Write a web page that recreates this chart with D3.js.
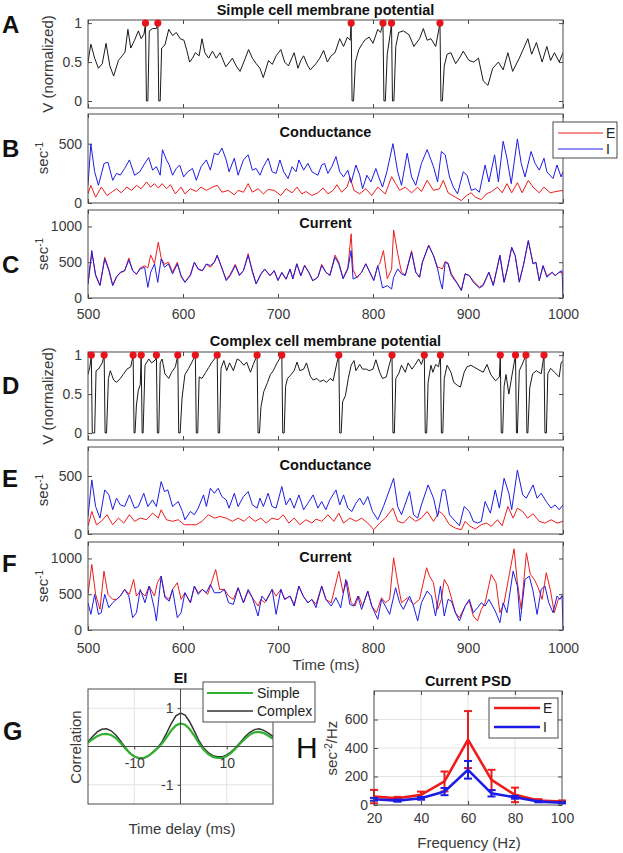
<!DOCTYPE html>
<html>
<head>
<meta charset="utf-8">
<script src="https://cdn.jsdelivr.net/npm/d3@7"></script>
<style>
body { margin: 0; background: #fff; }
svg { font-family: "Liberation Sans", Arial, sans-serif; }
.tick text { fill: #3a3a3a; font-size: 14px; }
.tick line { stroke: #4a4a4a; }
</style>
</head>
<body>
<svg width="623" height="853"></svg>
<script>
// ---- data ----
var timeTicks = [500, 600, 700, 800, 900, 1000];

// simple cell, membrane potential [t (ms), V normalized]
var simpleV = [[500,0.50],[503,0.73],[507,0.55],[511,0.42],[515,0.48],[519,0.74],[523,0.45],[527,0.32],[532,0.52],[536,0.58],[539,0.63],[542,0.92],[545,0.68],[549,0.78],[553,0.90],[556,0.80],[559,0.86],[560.5,1],[561.5,0],[563,0],[564.5,0.9],[568,0.93],[572,0.93],[573.5,1],[574.5,0],[576,0],[577.5,0.68],[581,0.72],[585,0.92],[589,0.84],[593,0.88],[597,0.80],[601,0.78],[604,0.65],[607,0.50],[610,0.55],[613,0.62],[617,0.58],[620,0.80],[623,0.62],[627,0.55],[631,0.64],[635,0.55],[639,0.62],[645,0.44],[649,0.50],[652,0.55],[656,0.45],[660,0.38],[664,0.50],[669,0.66],[673,0.55],[677,0.48],[681,0.42],[684.5,0.30],[690,0.52],[694,0.47],[698,0.58],[703,0.66],[707,0.50],[711,0.45],[717,0.62],[721,0.42],[724,0.52],[727,0.58],[731,0.46],[734,0.40],[740,0.48],[744,0.55],[748,0.65],[752,0.50],[756,0.58],[760,0.62],[765,0.80],[769,0.70],[773,0.82],[776,0.78],[777,1],[778,0],[779.5,0],[781.5,0.5],[785,0.66],[789,0.74],[792,0.79],[796,0.82],[800,0.74],[805,0.92],[808,0.88],[810.5,1],[811.5,0],[813,0],[815,0.6],[818,0.85],[819.5,1],[820.5,0],[822,0],[824,0.7],[827,0.88],[832,0.90],[838,0.85],[843,0.70],[849,0.80],[853,0.93],[857,0.78],[861,0.80],[866,0.70],[870.5,1],[871.5,0],[873,0],[875,0.45],[878,0.60],[882,0.62],[887,0.48],[891,0.55],[895,0.64],[901,0.52],[906,0.50],[911,0.55],[916,0.26],[921,0.20],[926,0.42],[932,0.50],[937,0.40],[942,0.62],[947,0.38],[954,0.55],[958,0.66],[963,0.80],[967,0.60],[972,0.75],[978,0.50],[983,0.70],[987,0.52],[991,0.62],[996,0.50],[1000,0.62]];
var simpleSpikes = [560.5, 573.5, 777, 810.5, 819.5, 870.5];

// simple cell conductance [t, sec^-1]
var simpleGE = [[500,77],[503,149],[508,49],[514,134],[520,63],[526,97],[530,120],[535,86],[540.7,134],[546,106],[551,149],[556,120],[561.7,177],[566,134],[570,163],[574,126],[578,163],[582.6,120],[586.8,154],[592,77],[598,134],[602,77],[607.8,120],[614,97],[619,134],[624.6,106],[631,134],[636,149],[641,91],[647.7,106],[654,69],[658,106],[663.6,91],[668.6,163],[673,91],[679,120],[684.6,77],[689.6,114],[696,106],[703,63],[708.5,120],[714.8,86],[720,134],[725,77],[729.5,97],[735.7,63],[742,86],[747.5,126],[752.5,77],[758,106],[762,154],[767,91],[772.6,134],[776,215],[780,106],[786,77],[792.4,120],[798.7,63],[805,134],[810,97],[813,77],[819.6,222],[824,163],[828,106],[834,134],[840.6,86],[847,134],[851,97],[857,191],[863.7,106],[870,120],[874,191],[879,86],[886.7,49],[893,20],[898.5,63],[903.5,86],[907.7,49],[914,29],[919.5,77],[925,97],[931,134],[936,86],[941,163],[946,86],[952,171],[957,86],[963.5,191],[968.5,134],[975,86],[980,134],[986.6,86],[992.5,97],[1000,106]];
var simpleGI = [[500,149],[503,497],[507,263],[511,149],[517,334],[521,343],[526,191],[530,249],[534,235],[538.6,291],[543.6,363],[549,234],[554.5,263],[558.7,320],[563.8,383],[568,277],[572,306],[576,234],[578.4,449],[582.6,363],[585.6,320],[589,234],[593,291],[596.5,320],[600.7,220],[605,263],[610,291],[614,191],[619,306],[624.6,363],[628.8,277],[633,420],[637,406],[641,463],[645.5,363],[648.5,263],[654,377],[658,234],[663.6,363],[668.6,406],[673,277],[677,291],[681,234],[684.6,306],[689.6,377],[693.8,263],[698,249],[702,363],[706,263],[710.6,206],[714.8,306],[719,263],[722,363],[727,277],[731.5,334],[735.7,263],[742,234],[746,320],[749,334],[752.5,249],[756.7,306],[761,391],[765,263],[769,220],[773.5,277],[777,170],[782,320],[786,234],[789,120],[793.6,234],[797.8,177],[803,291],[806,220],[810,134],[814.6,263],[821,500],[826,263],[830,149],[836,420],[840.6,220],[845,149],[851,334],[857,450],[863.7,306],[868,177],[872,434],[876,406],[880.5,220],[884.6,134],[889,77],[895,263],[899,234],[903.5,106],[907.7,120],[912,91],[918,320],[922,177],[928,406],[932,177],[937,520],[941,377],[945.5,163],[952,540],[956,334],[960,220],[966.4,434],[970.6,334],[975,277],[980,377],[983,263],[989.5,206],[993.7,320],[998,220],[1000,263]];

// simple cell current [t, sec^-1]
var simpleCurE = [[500,196],[504,630],[508,330],[512.6,180],[517.6,570],[522,400],[526,180],[530,300],[534,350],[538.6,380],[543,560],[547,380],[551,330],[555,420],[559.6,450],[563,420],[566,600],[570,480],[574,780],[577,560],[580.5,470],[584.7,500],[589,360],[594,500],[598,300],[602,220],[607.8,330],[612,500],[616,400],[620.4,380],[624.6,470],[628.8,430],[633,500],[636,600],[640,450],[645.5,260],[649.7,330],[655,470],[659.4,320],[663.6,380],[668.6,620],[673,360],[677,200],[682,330],[686,400],[691.7,310],[696,380],[700,250],[704,350],[708.5,260],[712.7,400],[715.6,270],[719.8,480],[724,310],[728,460],[732.4,360],[736.6,240],[742,290],[746,470],[750.4,360],[754.6,320],[760,600],[764,500],[768.5,280],[773.5,420],[777,897],[779,400],[783,280],[788,360],[792.4,480],[796.6,360],[800.8,250],[805,450],[807,476],[811,663],[815,270],[819.6,400],[821.7,950],[826,620],[830,360],[834,320],[840.6,660],[845,360],[849,290],[852,500],[858.6,740],[863.7,590],[868,430],[871,420],[873,406],[876,510],[879,490],[882.5,340],[889,200],[893,110],[897,340],[901.4,310],[905.6,240],[912,150],[916,190],[922,360],[926.6,180],[933.6,600],[938,220],[941,380],[946,700],[949.7,590],[954,230],[958.6,470],[963.5,800],[968.5,480],[971.5,500],[975,240],[979,450],[983,310],[988.7,360],[991.6,310],[996,360],[999,350],[1000,340]];
var simpleCurI = [[500,196],[504,663],[508,313],[512.6,173],[517.6,546],[522,383],[526,173],[530,290],[534,360],[538.6,383],[543,532],[547,383],[551,336],[555,406],[559.6,430],[563,149],[566,360],[570,476],[573.4,219],[577,546],[580.5,430],[584.7,476],[589,336],[594,476],[598,313],[602,220],[607.8,313],[612,500],[616,406],[620.4,383],[624.6,476],[628.8,453],[633,500],[636,593],[640,453],[645.5,243],[649.7,313],[655,453],[659.4,313],[663.6,383],[668.6,593],[673,383],[677,196],[682,336],[686,406],[691.7,313],[696,383],[700,243],[704,360],[708.5,266],[712.7,406],[715.6,266],[719.8,476],[724,313],[728,453],[732.4,360],[736.6,243],[742,290],[746,453],[750.4,360],[754.6,313],[760,570],[764,476],[768.5,266],[773.5,406],[777,663],[779,266],[783,290],[788,360],[792.4,476],[796.6,360],[800.8,243],[805,453],[807,336],[810,140],[815,173],[819.6,126],[821.7,290],[826,406],[830,336],[834,313],[840.6,640],[845,360],[849,290],[852,500],[858.6,733],[863.7,593],[868,406],[871,220],[873,126],[876,500],[879,476],[882.5,313],[889,196],[893,103],[897,336],[901.4,313],[905.6,220],[912,140],[916,173],[922,360],[926.6,173],[933.6,593],[938,220],[941,383],[946,710],[949.7,593],[954,220],[958.6,476],[963.5,803],[968.5,476],[971.5,500],[975,243],[979,453],[983,290],[988.7,360],[991.6,313],[996,360],[999,383],[1000,10]];

// complex cell, membrane potential [t, V normalized]
var complexV = [[500,0.75],[502,0.85],[503.5,1],[504.5,0],[507,0],[508.5,0.80],[511,0.82],[515,0.9],[517,1],[518,0],[519.5,0],[521.5,0.70],[523.5,0.80],[527,0.68],[530,0.65],[534,0.70],[537,0.75],[541,0.82],[545,0.85],[547.5,1],[548.5,0],[549.5,0],[551,0.36],[553,0.55],[555,0.62],[556,1],[557,0],[558,0],[560,0.87],[564,0.95],[567,0.90],[571,0.94],[572,1],[573,0],[574.5,0],[576,0.90],[578,0.95],[581,0.76],[585,0.70],[588,0.78],[592,0.85],[594.5,1],[595.5,0],[597,0],[599,0.45],[602,0.75],[606,0.83],[609,0.90],[613,1],[614,0],[615.5,0],[617,0.72],[620,0.70],[624,0.78],[627,0.84],[630,0.90],[636,1],[637,0],[638.5,0],[640,0.83],[643,0.93],[646,0.80],[649,0.90],[653,0.80],[657,0.95],[660,0.93],[664,0.87],[667,0.91],[671,0.78],[674,0.88],[678,1],[679,0],[680.5,0],[682,0.33],[685,0.53],[689,0.65],[692,0.75],[695,0.80],[699,0.90],[704,1],[705,0],[706.5,0],[708,0.60],[710,0.70],[713,0.74],[717,0.80],[720,0.91],[723,0.80],[727,0.82],[730,0.90],[734,0.73],[737,0.68],[741,0.70],[744,0.66],[748,0.68],[751,0.65],[755,0.70],[758,0.67],[762,0.90],[764,1],[765,0],[766.5,0],[768,0.40],[771,0.48],[774,0.70],[777,0.87],[780,0.93],[782,0.80],[786,0.88],[789,0.82],[793,0.82],[796,0.80],[800,0.82],[803,0.94],[807,0.78],[810,0.70],[814,0.72],[817,0.87],[820,1],[821,0],[822.5,0],[824,0.70],[827,0.76],[830,0.87],[834,0.78],[837,0.90],[841,0.82],[844,0.87],[848,0.95],[851,0.88],[854,1],[855,0],[856.5,0],[858,0.65],[861,0.87],[863,0.78],[866,0.88],[869,0.85],[871,1],[872,0],[873.5,0],[875,0.70],[878,0.87],[882,0.78],[885,0.65],[889,0.61],[892,0.59],[896,0.78],[899,0.85],[903,0.87],[906,0.85],[910,0.82],[916,0.78],[920,0.88],[924,0.75],[929,0.67],[933,0.72],[934,1],[935,0],[936.5,0],[938,0.60],[940,0.75],[943,0.50],[946,0.72],[950,1],[951,0],[952,0],[954,0.80],[957,0.88],[961,1],[962,0],[963,0],[965,0.58],[968,0.76],[972,0.80],[977,0.76],[980,1],[981,0],[982.5,0],[984,0.76],[987,0.83],[991,0.78],[996,0.72],[998,0.90],[1000,0.93]];
var complexSpikes = [503.5, 517, 547.5, 556, 572, 594.5, 613, 636, 678, 704, 764, 820, 854, 871, 934, 950, 961, 980];

// complex cell conductance [t, sec^-1]
var complexGE = [[500,66],[504,194],[509,80],[514,109],[520,166],[526,80],[532,137],[537.7,94],[543.6,166],[549,109],[555,137],[561.7,123],[568,180],[574,137],[577,209],[582.6,123],[589,109],[595,123],[601.5,80],[607.8,80],[614,80],[620,109],[626.7,166],[633,137],[639,151],[645.5,137],[652,109],[658,137],[664.4,109],[669.5,151],[676,109],[682,137],[687.5,94],[693.8,137],[700,123],[705.5,166],[711.4,94],[717,137],[723,80],[729.5,123],[735.7,94],[740,129],[746,109],[752.5,166],[758.8,109],[764,180],[769,94],[775.6,137],[782,109],[788,137],[794.5,94],[800.8,37],[807,94],[813,137],[821,223],[826,109],[832,94],[838.5,151],[845,109],[851,137],[857,194],[863.7,109],[870,194],[874,166],[880.5,80],[886.7,51],[893,37],[897,109],[901.4,71],[907.7,43],[914,80],[919.5,94],[924.5,66],[931,123],[936,71],[942,237],[947.5,137],[952,223],[957.6,194],[962.7,137],[968.5,174],[975,109],[981,94],[987.4,123],[993.7,94],[1000,109]];
var complexGI = [[500,151],[504,466],[508,237],[512.6,137],[517.6,380],[522,337],[526,209],[530,309],[534,251],[538.6,237],[543.6,337],[549,223],[553,237],[558.7,351],[563,237],[568,294],[572,237],[577,451],[580.5,366],[584,380],[589,237],[595,280],[599.4,194],[602,123],[607.8,194],[612,166],[616,223],[621.6,337],[624.6,237],[628.8,394],[633,351],[637,394],[641,323],[645.5,294],[648.5,223],[654,351],[658,237],[663.6,323],[668.6,366],[673,251],[678,223],[681,309],[684.6,237],[689.6,351],[693.8,237],[698,223],[704,409],[708.5,251],[712.7,309],[717,223],[722,337],[727,209],[731.5,266],[737,337],[742,223],[746,280],[750.4,209],[754.6,294],[761,380],[765,251],[769,337],[773.5,223],[777.7,194],[782,266],[786,309],[790,251],[794.5,323],[799.5,194],[805,123],[811,237],[821.7,480],[826,237],[830,166],[838.5,366],[842.7,166],[847,137],[851,251],[858,423],[863.7,309],[868,151],[873,380],[876,380],[880.5,166],[886.7,109],[891,71],[896,237],[901.4,194],[905.6,109],[910,94],[914,109],[918,280],[923.6,180],[928.7,380],[933,223],[938,480],[943,351],[946,209],[952,551],[957.6,337],[961.4,309],[968.5,423],[972.7,309],[977,351],[982.4,280],[987.4,223],[991.6,251],[996,209],[1000,251]];

// complex cell current [t, sec^-1]
var complexCurE = [[500,498],[504,916],[508,498],[512.6,288],[516.8,823],[521,498],[526,428],[530,428],[534,474],[538.6,567],[543.6,498],[548,707],[551,474],[555,544],[560,474],[564.4,614],[570,474],[573,660],[577,753],[581,474],[585.6,428],[589,567],[594,660],[598,428],[602,521],[607.8,381],[612,614],[616,521],[620.4,567],[626,498],[634.4,846],[638.6,567],[643.6,567],[648,474],[653,428],[658,590],[663.6,381],[668.6,544],[673,451],[679,335],[682,428],[686,381],[693.8,567],[698,474],[703,567],[707,428],[712.7,474],[717,358],[722,614],[726.5,474],[731.5,381],[735.7,428],[740,358],[746,614],[750.4,428],[756,381],[764,823],[768.5,521],[772.6,684],[777,381],[781,335],[785,474],[789,335],[794.5,544],[798.7,335],[803.7,242],[809,451],[813,381],[817.5,428],[821.7,1009],[826,660],[830,381],[836.4,451],[842.7,358],[849,428],[856.4,870],[859.5,753],[863.7,660],[868,288],[872,428],[875,707],[879,614],[883,428],[886.7,242],[891,172],[897,335],[901.4,404],[905.6,195],[910,126],[914,288],[918,381],[924.5,777],[929.5,660],[933.6,242],[938,381],[942.5,707],[948.5,1135],[952,660],[956,288],[961.5,1079],[965.6,777],[969.8,707],[974,590],[978,428],[982.4,800],[986.6,567],[990.8,242],[995,428],[1000,474]];
var complexCurI = [[500,381],[503,219],[507,498],[511,219],[514,242],[517.6,498],[522,312],[526,381],[530,428],[534,474],[538.6,567],[543,474],[547,172],[551,242],[555,567],[560,381],[564.4,614],[570,288],[572,126],[577,753],[581,451],[585.6,404],[589,567],[594,172],[598,242],[602,521],[607.8,381],[612,614],[616,498],[620.4,567],[624.6,521],[628.8,637],[633,521],[639,521],[643.6,567],[648,381],[653,358],[658,590],[663.6,381],[668.6,567],[673,451],[679,195],[683,474],[687.5,404],[693.8,567],[698,219],[703,567],[707,428],[712.7,474],[717,335],[722,614],[726.5,474],[731.5,381],[735.7,428],[740,312],[746,614],[750.4,428],[756,335],[761,451],[766,312],[771.4,707],[775.6,358],[779.8,335],[784,474],[788,288],[794.5,544],[798.7,335],[805,149],[809,428],[813,335],[817.5,219],[823.8,590],[828,381],[832,288],[838.5,474],[842.7,335],[847,126],[851,381],[857,544],[861.6,474],[865.8,195],[871,614],[875,195],[879,428],[882.5,404],[886.7,242],[891,126],[897,335],[901.4,428],[905.6,242],[910,312],[914,381],[918,335],[922,428],[928.7,265],[933.6,102],[937,381],[941,242],[947.5,823],[952,614],[955,126],[960,707],[964.5,753],[968.5,544],[972.7,219],[977,567],[981,614],[985,381],[989.5,242],[993.7,474],[996.6,428],[999,480],[1000,20]];

// EI correlation vs time delay
var lagMs = [-20,-19,-18,-17,-16,-15,-14,-13,-12,-11,-10,-9,-8,-7,-6,-5,-4,-3,-2,-1,0,1,2,3,4,5,6,7,8,9,10,11,12,13,14,15,16,17,18,19,20];
var corrSimple = [0.10,0.19,0.27,0.32,0.33,0.30,0.22,0.10,-0.04,-0.17,-0.26,-0.30,-0.30,-0.25,-0.16,-0.05,0.08,0.24,0.42,0.55,0.60,0.57,0.45,0.28,0.08,-0.08,-0.20,-0.27,-0.30,-0.30,-0.25,-0.16,-0.04,0.09,0.21,0.31,0.37,0.38,0.35,0.28,0.20];
var corrComplex = [0.13,0.26,0.38,0.45,0.46,0.41,0.30,0.15,-0.02,-0.16,-0.26,-0.31,-0.31,-0.25,-0.15,-0.04,0.12,0.35,0.60,0.80,0.87,0.82,0.64,0.40,0.15,-0.04,-0.16,-0.24,-0.27,-0.27,-0.22,-0.13,-0.02,0.12,0.26,0.37,0.44,0.46,0.42,0.35,0.26];

// current PSD
var freqHz = [20, 30, 40, 50, 60, 70, 80, 90, 100];
var psdE = [59, 47, 71, 165, 459, 176, 71, 31, 24];
var psdEErr = [47, 10, 23, 70, 200, 71, 51, 10, 8];
var psdI = [40, 31, 47, 94, 247, 82, 54, 24, 16];
var psdIErr = [10, 8, 10, 25, 62, 22, 10, 5, 5];

// ---- drawing ----
var svg = d3.select("svg");
var axisColor = "#4a4a4a";
var red = "#ee1c1c", blue = "#1c1ce6";
var left = 88, right = 563;
var x = d3.scaleLinear().domain([500, 1000]).range([left, right]);
var plain = function(d) { return String(d); };
var clipId = 0;

function panel(top, bottom, yDomain, yTicks, showX, xPad) {
    var y = d3.scaleLinear().domain(yDomain).range([bottom, top]);
    var g = svg.append("g");
    var id = "clip" + (clipId++);
    g.append("clipPath").attr("id", id).append("rect")
        .attr("x", left).attr("y", top).attr("width", right - left).attr("height", bottom - top);

    var xb = d3.axisBottom(x).tickValues(timeTicks).tickSize(-4).tickPadding(xPad || 10)
        .tickFormat(showX ? plain : "");
    g.append("g").attr("transform", "translate(0," + bottom + ")").call(xb);
    g.append("g").attr("transform", "translate(0," + top + ")")
        .call(d3.axisTop(x).tickValues(timeTicks).tickSize(-4).tickFormat(""));
    g.append("g").attr("transform", "translate(" + left + ",0)")
        .call(d3.axisLeft(y).tickValues(yTicks).tickSize(-4).tickPadding(6).tickFormat(plain));
    g.append("g").attr("transform", "translate(" + right + ",0)")
        .call(d3.axisRight(y).tickValues(yTicks).tickSize(-4).tickFormat(""));
    g.selectAll(".domain").remove();

    var plot = g.append("g").attr("clip-path", "url(#" + id + ")");
    g.append("rect").attr("x", left).attr("y", top).attr("width", right - left).attr("height", bottom - top)
        .attr("fill", "none").attr("stroke", axisColor).attr("stroke-width", 1);
    return {g: g, plot: plot, y: y};
}

function trace(p, data, color, width) {
    p.plot.append("path").datum(data)
        .attr("fill", "none").attr("stroke", color).attr("stroke-width", width)
        .attr("stroke-linejoin", "round")
        .attr("d", d3.line().x(function(d) { return x(d[0]); }).y(function(d) { return p.y(d[1]); }));
}

function spikes(p, times) {
    p.g.selectAll(null).data(times).enter().append("circle")
        .attr("cx", function(d) { return x(d); }).attr("cy", p.y(1)).attr("r", 3.6)
        .attr("fill", "#e8141c");
}

function title(txt, cy) {
    svg.append("text").attr("x", (left + right) / 2).attr("y", cy).attr("text-anchor", "middle")
        .attr("font-size", 14.5).attr("font-weight", "bold").attr("fill", "#111").text(txt);
}

function letter(txt, lx, ly, size, weight) {
    svg.append("text").attr("x", lx).attr("y", ly).attr("font-size", size || 24)
        .attr("font-weight", weight || "bold").attr("fill", "#111").text(txt);
}

function yLabel(lx, ly, main, sup, tail) {
    var t = svg.append("text").attr("transform", "translate(" + lx + "," + ly + ") rotate(-90)")
        .attr("text-anchor", "middle").attr("font-size", 15).attr("fill", "#3a3a3a");
    t.append("tspan").text(main);
    if (sup) t.append("tspan").attr("baseline-shift", "super").attr("font-size", 10).text(sup);
    if (tail) t.append("tspan").text(tail);
}

// A
var pA = panel(20, 108, [-0.09, 1.04], [0, 0.5, 1], false);
trace(pA, simpleV, "#1a1a1a", 1);
spikes(pA, simpleSpikes);
title("Simple cell membrane potential", 15);
yLabel(53, 64, "V (normalized)");
letter("A", 2, 33);

// B
var pB = panel(114, 203, [0, 750], [0, 500], false);
trace(pB, simpleGE, red, 1);
trace(pB, simpleGI, blue, 1);
pB.g.append("text").attr("x", (left + right) / 2).attr("y", 137).attr("text-anchor", "middle")
    .attr("font-size", 14.5).attr("font-weight", "bold").attr("fill", "#111").text("Conductance");
yLabel(48, 158, "sec", "-1");
letter("B", 2, 157);

// legend B
var lg = svg.append("g");
lg.append("rect").attr("x", 553).attr("y", 122).attr("width", 64).attr("height", 36)
    .attr("fill", "#fff").attr("stroke", axisColor);
[["E", red, 133], ["I", blue, 149]].forEach(function(r) {
    lg.append("line").attr("x1", 558).attr("x2", 603).attr("y1", r[2]).attr("y2", r[2])
        .attr("stroke", r[1]).attr("stroke-width", 1);
    lg.append("text").attr("x", 606).attr("y", r[2] + 5).attr("font-size", 14).attr("fill", "#222").text(r[0]);
});

// C
var pC = panel(210, 298, [0, 1230], [0, 500, 1000], true, 11);
trace(pC, simpleCurE, red, 1);
trace(pC, simpleCurI, blue, 1);
pC.g.append("text").attr("x", (left + right) / 2).attr("y", 228).attr("text-anchor", "middle")
    .attr("font-size", 14.5).attr("font-weight", "bold").attr("fill", "#111").text("Current");
yLabel(48, 254, "sec", "-1");
letter("C", 2, 273);

// D
var pD = panel(352, 440, [-0.09, 1.04], [0, 0.5, 1], false);
trace(pD, complexV, "#1a1a1a", 1);
spikes(pD, complexSpikes);
title("Complex cell membrane potential", 346);
yLabel(53, 396, "V (normalized)");
letter("D", 2, 394);

// E
var pE = panel(447, 534, [0, 750], [0, 500], false);
trace(pE, complexGE, red, 1);
trace(pE, complexGI, blue, 1);
pE.g.append("text").attr("x", (left + right) / 2).attr("y", 470).attr("text-anchor", "middle")
    .attr("font-size", 14.5).attr("font-weight", "bold").attr("fill", "#111").text("Conductance");
yLabel(48, 490, "sec", "-1");
letter("E", 2, 487);

// F
var pF = panel(542, 630, [0, 1230], [0, 500, 1000], true, 13);
trace(pF, complexCurE, red, 1);
trace(pF, complexCurI, blue, 1);
pF.g.append("text").attr("x", (left + right) / 2).attr("y", 562).attr("text-anchor", "middle")
    .attr("font-size", 14.5).attr("font-weight", "bold").attr("fill", "#111").text("Current");
yLabel(48, 586, "sec", "-1");
letter("F", 2, 572);

svg.append("text").attr("x", 326).attr("y", 670).attr("text-anchor", "middle")
    .attr("font-size", 15).attr("fill", "#3a3a3a").text("Time (ms)");

// G: EI correlation
(function() {
    var gl = 88, gr = 273, gt = 689, gb = 804;
    var gx = d3.scaleLinear().domain([-20, 20]).range([gl, gr]);
    var gy = d3.scaleLinear().domain([-1.5, 1.5]).range([gb, gt]);
    var g = svg.append("g");
    g.append("clipPath").attr("id", "clipG").append("rect")
        .attr("x", gl).attr("y", gt).attr("width", gr - gl).attr("height", gb - gt);
    // grid
    [-10, 10].forEach(function(v) {
        g.append("line").attr("x1", gx(v)).attr("x2", gx(v)).attr("y1", gt).attr("y2", gb)
            .attr("stroke", "#e2e2e2");
    });
    [-1, 1].forEach(function(v) {
        g.append("line").attr("x1", gl).attr("x2", gr).attr("y1", gy(v)).attr("y2", gy(v))
            .attr("stroke", "#e2e2e2");
    });
    var plot = g.append("g").attr("clip-path", "url(#clipG)");
    var line = function(vals) {
        return d3.line().x(function(d, i) { return gx(lagMs[i]); }).y(function(d) { return gy(d); })(vals);
    };
    // origin axes
    g.append("line").attr("x1", gl).attr("x2", gr).attr("y1", gy(0)).attr("y2", gy(0)).attr("stroke", axisColor);
    g.append("line").attr("x1", gx(0)).attr("x2", gx(0)).attr("y1", gt).attr("y2", gb).attr("stroke", axisColor);
    plot.append("path").attr("d", line(corrComplex)).attr("fill", "none").attr("stroke", "#333").attr("stroke-width", 1.5);
    plot.append("path").attr("d", line(corrSimple)).attr("fill", "none").attr("stroke", "#2fb12f").attr("stroke-width", 2.2);
    g.append("g").attr("transform", "translate(0," + gy(0) + ")")
        .call(d3.axisBottom(gx).tickValues([-10, 10]).tickSize(3).tickPadding(9).tickFormat(plain));
    g.append("g").attr("transform", "translate(" + gx(0) + ",0)")
        .call(d3.axisLeft(gy).tickValues([-1, 1]).tickSize(3).tickPadding(4).tickFormat(plain));
    g.selectAll(".domain").remove();
    g.append("rect").attr("x", gl).attr("y", gt).attr("width", gr - gl).attr("height", gb - gt)
        .attr("fill", "none").attr("stroke", axisColor);
    g.append("text").attr("x", (gl + gr) / 2).attr("y", 683).attr("text-anchor", "middle")
        .attr("font-size", 14.5).attr("font-weight", "bold").attr("fill", "#111").text("EI");
    g.append("text").attr("x", 182).attr("y", 834).attr("text-anchor", "middle")
        .attr("font-size", 15).attr("fill", "#3a3a3a").text("Time delay (ms)");
    g.append("text").attr("transform", "translate(81,747) rotate(-90)").attr("text-anchor", "middle")
        .attr("font-size", 15).attr("fill", "#3a3a3a").text("Correlation");
    // legend
    var lgG = g.append("g");
    lgG.append("rect").attr("x", 203).attr("y", 682).attr("width", 112).attr("height", 40)
        .attr("fill", "#fff").attr("stroke", axisColor);
    [["Simple", "#2fb12f", 693, 2], ["Complex", "#333", 711, 1.5]].forEach(function(r) {
        lgG.append("line").attr("x1", 207).attr("x2", 253).attr("y1", r[2]).attr("y2", r[2])
            .attr("stroke", r[1]).attr("stroke-width", r[3]);
        lgG.append("text").attr("x", 257).attr("y", r[2] + 5).attr("font-size", 14).attr("fill", "#222").text(r[0]);
    });
    letter("G", 3, 740, 25);
})();

// H: current PSD
(function() {
    var hl = 374, hr = 562, ht = 691, hb = 805;
    var hx = d3.scaleLinear().domain([20, 100]).range([hl, hr]);
    var hy = d3.scaleLinear().domain([0, 800]).range([hb, ht]);
    var g = svg.append("g");
    [40, 60, 80].forEach(function(v) {
        g.append("line").attr("x1", hx(v)).attr("x2", hx(v)).attr("y1", ht).attr("y2", hb).attr("stroke", "#e2e2e2");
    });
    [200, 400, 600].forEach(function(v) {
        g.append("line").attr("x1", hl).attr("x2", hr).attr("y1", hy(v)).attr("y2", hy(v)).attr("stroke", "#e2e2e2");
    });
    g.append("g").attr("transform", "translate(0," + hb + ")")
        .call(d3.axisBottom(hx).tickValues([20, 40, 60, 80, 100]).tickSize(-4).tickPadding(8).tickFormat(plain));
    g.append("g").attr("transform", "translate(0," + ht + ")")
        .call(d3.axisTop(hx).tickValues([20, 40, 60, 80, 100]).tickSize(-4).tickFormat(""));
    g.append("g").attr("transform", "translate(" + hl + ",0)")
        .call(d3.axisLeft(hy).tickValues([0, 200, 400, 600]).tickSize(-4).tickPadding(6).tickFormat(plain));
    g.append("g").attr("transform", "translate(" + hr + ",0)")
        .call(d3.axisRight(hy).tickValues([0, 200, 400, 600]).tickSize(-4).tickFormat(""));
    g.selectAll(".domain").remove();

    function series(vals, errs, color) {
        var s = g.append("g");
        s.append("path").datum(vals)
            .attr("fill", "none").attr("stroke", color).attr("stroke-width", 2.6).attr("stroke-linejoin", "round")
            .attr("d", d3.line().x(function(d, i) { return hx(freqHz[i]); }).y(function(d) { return hy(d); }));
        vals.forEach(function(v, i) {
            var cx = hx(freqHz[i]), lo = hy(Math.max(v - errs[i], 0)), hi = hy(v + errs[i]);
            s.append("line").attr("x1", cx).attr("x2", cx).attr("y1", lo).attr("y2", hi).attr("stroke", color).attr("stroke-width", 2);
            [lo, hi].forEach(function(yy) {
                s.append("line").attr("x1", cx - 4).attr("x2", cx + 4).attr("y1", yy).attr("y2", yy)
                    .attr("stroke", color).attr("stroke-width", 2);
            });
        });
    }
    series(psdE, psdEErr, red);
    series(psdI, psdIErr, blue);

    g.append("rect").attr("x", hl).attr("y", ht).attr("width", hr - hl).attr("height", hb - ht)
        .attr("fill", "none").attr("stroke", axisColor);
    g.append("text").attr("x", (hl + hr) / 2).attr("y", 686).attr("text-anchor", "middle")
        .attr("font-size", 14.5).attr("font-weight", "bold").attr("fill", "#111").text("Current PSD");
    g.append("text").attr("x", 469).attr("y", 848).attr("text-anchor", "middle")
        .attr("font-size", 15).attr("fill", "#3a3a3a").text("Frequency (Hz)");
    yLabel(337, 748, "sec", "-2", "/Hz");
    var lgH = g.append("g");
    lgH.append("rect").attr("x", 489).attr("y", 698).attr("width", 69).attr("height", 40)
        .attr("fill", "#fff").attr("stroke", axisColor);
    [["E", red, 708], ["I", blue, 727]].forEach(function(r) {
        lgH.append("line").attr("x1", 494).attr("x2", 540).attr("y1", r[2]).attr("y2", r[2])
            .attr("stroke", r[1]).attr("stroke-width", 2.6);
        lgH.append("text").attr("x", 543).attr("y", r[2] + 5).attr("font-size", 14).attr("fill", "#222").text(r[0]);
    });
    letter("H", 296, 758, 30, "normal");
})();
</script>
</body>
</html>
